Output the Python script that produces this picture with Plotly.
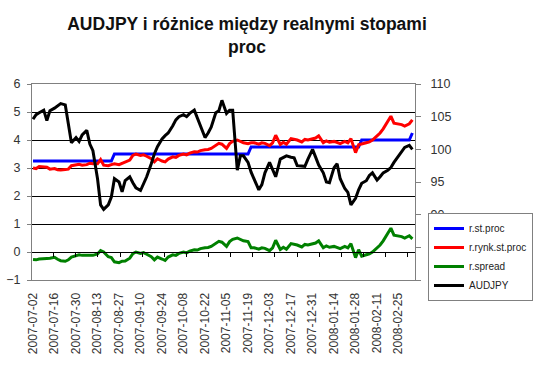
import pandas as pd
import plotly.graph_objects as go

# Dates: Mon/Wed/Fri samples from 2007-07-02 to 2008-03-05
all_days = pd.date_range("2007-07-02", "2008-03-05", freq="D")
dates = [d for d in all_days if d.weekday() in (0, 2, 4)]

r_st_proc = [
    3.25, 3.25, 3.25,  3.25, 3.25, 3.25,  3.25, 3.25, 3.25,  3.25, 3.25, 3.25,
    3.25, 3.25, 3.25,  3.25, 3.25, 3.25,  3.25, 3.25, 3.25,  3.25, 3.25, 3.50,
    3.50, 3.50, 3.50,  3.50, 3.50, 3.50,  3.50, 3.50, 3.50,  3.50, 3.50, 3.50,
    3.50, 3.50, 3.50,  3.50, 3.50, 3.50,  3.50, 3.50, 3.50,  3.50, 3.50, 3.50,
    3.50, 3.50, 3.50,  3.50, 3.50, 3.50,  3.50, 3.50, 3.50,  3.50, 3.50, 3.50,
    3.50, 3.75, 3.75,  3.75, 3.75, 3.75,  3.75, 3.75, 3.75,  3.75, 3.75, 3.75,
    3.75, 3.75, 3.75,  3.75, 3.75, 3.75,  3.75, 3.75, 3.75,  3.75, 3.75, 3.75,
    3.75, 3.75, 3.75,  3.75, 3.75, 3.75,  3.75, 3.75, 4.00,  4.00, 4.00, 4.00,
    4.00, 4.00, 4.00,  4.00, 4.00, 4.00,  4.00, 4.00, 4.00,  4.00, 4.25,
]

r_rynk_st_proc = [
    3.00, 2.98, 3.05,  3.05, 3.03, 2.96,  2.98, 2.94, 2.93,  2.95, 2.96, 3.08,
    3.10, 3.13, 3.10,  3.12, 3.17, 3.15,  3.15, 3.30, 3.10,  3.08, 3.12, 3.15,
    3.12, 3.17, 3.20,  3.28, 3.45, 3.50,  3.45, 3.47, 3.42,  3.33, 3.22, 3.33,
    3.25, 3.22, 3.32,  3.40, 3.38, 3.45,  3.50, 3.47, 3.53,  3.58, 3.57, 3.62,
    3.65, 3.66, 3.70,  3.80, 3.88, 3.85,  3.70, 3.87, 3.95,  4.00, 3.95, 3.90,
    3.87, 3.90, 3.90,  3.85, 3.90, 3.88,  3.80, 3.90, 4.17,  3.84, 3.92, 3.85,
    4.05, 4.03, 4.00,  3.93, 4.02, 4.00,  4.03, 4.07, 4.15,  3.90, 3.97, 3.92,
    3.95, 3.90, 3.87,  3.95, 3.90, 4.05,  3.55, 3.83, 3.85,  3.90, 3.93, 4.00,
    4.15, 4.25, 4.40,  4.65, 4.85, 4.60,  4.57, 4.55, 4.50,  4.58, 4.72,
]

r_spread = [
    -0.27, -0.28, -0.25,  -0.25, -0.23, -0.22,  -0.19, -0.26, -0.31,  -0.33, -0.28, -0.18,
    -0.12, -0.10, -0.12,  -0.12, -0.10, -0.12,  -0.07, 0.05, 0.00,  -0.17, -0.20, -0.35,
    -0.38, -0.33, -0.32,  -0.22, -0.06, 0.00,  -0.05, -0.02, -0.08,  -0.17, -0.28, -0.18,
    -0.25, -0.30, -0.18,  -0.10, -0.12, -0.05,  0.00, -0.03, 0.03,  0.08, 0.07, 0.12,
    0.15, 0.16, 0.20,  0.30, 0.38, 0.35,  0.20, 0.37, 0.45,  0.50, 0.45, 0.40,
    0.37, 0.15, 0.15,  0.10, 0.15, 0.13,  0.05, 0.15, 0.42,  0.09, 0.17, 0.10,
    0.30, 0.28, 0.25,  0.18, 0.27, 0.25,  0.28, 0.32, 0.40,  0.15, 0.22, 0.17,
    0.20, 0.15, 0.12,  0.20, 0.15, 0.30,  -0.20, 0.08, -0.15,  -0.10, -0.07, 0.00,
    0.15, 0.25, 0.40,  0.65, 0.85, 0.60,  0.57, 0.55, 0.50,  0.58, 0.47,
]

audjpy = [
    104.6, 105.3, 105.6,  106.0, 104.4, 105.9,  106.3, 106.6, 107.0,  106.8, 104.0, 101.0,
    101.8, 101.2, 102.2,  102.9, 100.8, 99.8,  95.5, 91.5, 90.8,  91.5, 92.7, 95.5,
    95.0, 93.5, 95.2,  95.8, 94.9, 94.1,  93.7, 94.8, 95.8,  97.8, 99.3, 100.4,
    101.6, 102.1, 102.5,  103.6, 104.5, 105.0,  105.3, 105.0, 105.5,  106.0, 104.8, 103.9,
    101.8, 102.5, 103.4,  105.6, 105.9, 107.5,  105.5, 106.0, 106.0,  96.8, 99.0, 99.0,
    98.0, 96.5, 95.5,  93.8, 94.6, 96.4,  98.0, 97.0, 95.8,  98.5, 98.7, 99.0,
    98.8, 98.7, 97.5,  97.4, 97.4, 98.5,  100.0, 98.8, 97.6,  96.4, 95.0, 94.9,
    97.2, 97.8, 95.5,  94.0, 93.4, 91.5,  92.5, 93.8, 94.8,  95.2, 96.0, 96.4,
    95.3, 95.8, 96.4,  96.8, 97.2, 98.0,  99.0, 99.6, 100.3,  100.6, 100.0,
]

series_names = ["r.st.proc", "r.rynk.st.proc", "r.spread", "AUDJPY"]
series_colors = ["#0000FF", "#FF0000", "#008000", "#000000"]

title_text = "AUDJPY i różnice między realnymi stopami<br>proc"

assert len(dates) == len(r_st_proc) == len(r_rynk_st_proc) == len(r_spread) == len(audjpy)

FONT = "Liberation Sans, Arial, sans-serif"
W, H = 536, 368
ML, MR, MT, MB = 32, 121, 84, 88

fig = go.Figure()
for name, vals, col in zip(series_names[:3], [r_st_proc, r_rynk_st_proc, r_spread], series_colors[:3]):
    fig.add_trace(go.Scatter(x=dates, y=vals, name=name, mode="lines",
                             line=dict(color=col, width=3), xaxis="x", yaxis="y"))
fig.add_trace(go.Scatter(x=dates, y=audjpy, name=series_names[3], mode="lines",
                         line=dict(color=series_colors[3], width=3), xaxis="x", yaxis="y2"))
# helper trace to materialise the zero-line tick axis
fig.add_trace(go.Scatter(x=dates[:1], y=[None], xaxis="x2", yaxis="y",
                         showlegend=False, hoverinfo="skip"))

xrange = ["2007-07-01 08:00", "2008-03-06 17:00"]
DAY_MS = 86400000

fig.update_layout(
    width=W, height=H,
    margin=dict(l=ML, r=MR, t=MT, b=MB, pad=0, autoexpand=False),
    paper_bgcolor="white", plot_bgcolor="white",
    font=dict(family=FONT, size=12, color="#333333"),
    title=dict(text=title_text, x=247 / W, xref="container", xanchor="center",
               y=1 - 30 / H, yref="container", yanchor="top", automargin=False,
               font=dict(family=FONT, size=17.5, color="#111111", weight="bold")),
    showlegend=True,
    legend=dict(xref="container", yref="container", x=428 / W, xanchor="left",
                y=1 - 213 / H, yanchor="top",
                bordercolor="#808080", borderwidth=1, bgcolor="white",
                font=dict(family=FONT, size=10, color="#222222"),
                itemwidth=30, tracegroupgap=0),
    xaxis=dict(type="date", range=xrange, tick0="2007-07-02", dtick=14 * DAY_MS,
               tickformat="%Y-%m-%d", tickangle=-90, ticks="", showgrid=False,
               showline=True, linecolor="#808080", linewidth=1, mirror=True,
               ticklabelstandoff=7,
               zeroline=False, automargin=False, tickfont=dict(size=12, color="#333333")),
    xaxis2=dict(type="date", range=xrange, overlaying="x", anchor="free",
                position=1 / 7, side="bottom", showticklabels=False,
                tick0="2007-07-15 12:00", dtick=14.4 * DAY_MS,
                ticks="outside", ticklen=4, tickcolor="#000000", automargin=False,
                showline=True, linecolor="#000000", linewidth=1, showgrid=False,
                zeroline=False),
    yaxis=dict(range=[-1, 6], dtick=1, tick0=0, showgrid=True, gridcolor="#000000",
               gridwidth=1, zeroline=True, zerolinecolor="#000000", zerolinewidth=1,
               showline=True, linecolor="#808080", linewidth=1, automargin=False,
               ticks="outside", ticklen=4, tickcolor="#808080", ticklabelstandoff=4,
               tickfont=dict(size=12.5, color="#333333")),
    yaxis2=dict(range=[80, 110], dtick=5, tick0=80, overlaying="y", side="right",
                anchor="x", showgrid=False, zeroline=False, automargin=False,
                showline=True, linecolor="#808080", linewidth=1,
                ticks="outside", ticklen=5, tickcolor="#808080", ticklabelstandoff=7,
                tickfont=dict(size=12.5, color="#333333")),
)

fig.write_html("out.html", config={"displayModeBar": False},
               post_script="document.body.style.margin='0';")
